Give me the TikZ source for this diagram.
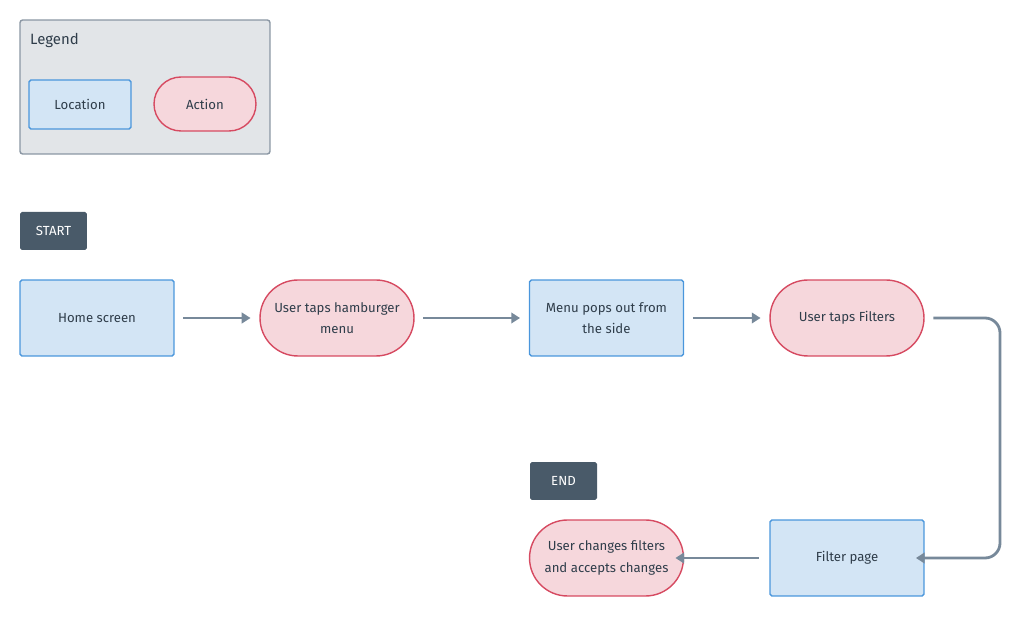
\documentclass[tikz,border=0pt]{standalone}
\usepackage{fontspec}
\setmainfont{Fira Sans}
\usetikzlibrary{positioning,arrows.meta}
\definecolor{locfill}{HTML}{D3E5F5}
\definecolor{locline}{HTML}{4A96DC}
\definecolor{actfill}{HTML}{F6D7DC}
\definecolor{actline}{HTML}{D64A61}
\definecolor{legfill}{HTML}{E2E5E8}
\definecolor{legline}{HTML}{8A96A3}
\definecolor{termfill}{HTML}{495A69}
\definecolor{flow}{HTML}{77899A}
\definecolor{txt}{HTML}{2F3D4A}
\tikzset{
    location/.style={draw=locline,fill=locfill,line width=0.8pt,rounded corners=1pt,minimum width=3.08cm,minimum height=1.52cm,align=center,text=txt,font=\fontsize{7.5}{12}\selectfont},
    action/.style={draw=actline,fill=actfill,line width=0.8pt,rounded corners=0.76cm,minimum width=3.08cm,minimum height=1.52cm,align=center,text=txt,font=\fontsize{7.5}{12}\selectfont},
    terminal/.style={fill=termfill,rounded corners=1pt,minimum width=1.34cm,minimum height=0.76cm,text=white,font=\fontsize{7.5}{9}\selectfont},
    flowarrow/.style={draw=flow,line width=1.6pt,-{Triangle[length=5pt,width=6pt]}}
}
\begin{document}
\begin{tikzpicture}[x=0.02cm,y=-0.02cm]
    \useasboundingbox (0,0) rectangle (1024,617);

    % Legend
    \node[draw=legline,fill=legfill,line width=0.8pt,rounded corners=1.5pt,minimum width=5cm,minimum height=2.68cm] (legend) at (145,87) {};
    \node[anchor=north west,text=txt,font=\fontsize{8.5}{10}\selectfont] (legendtitle) at (24,27) {Legend};
    \node[location,minimum width=2.04cm,minimum height=0.98cm] (keyloc) at (80,104.5) {Location};
    \node[action,minimum width=2.04cm,minimum height=1.08cm,rounded corners=0.54cm] (keyact) at (205,104) {Action};

    % Flow
    \node[terminal] (start) at (53.5,231) {START};
    \node[location] (home) at (97,318) {Home screen};
    \node[action] (hamburger) at (337,318) {User taps hamburger\\menu};
    \node[location] (menu) at (606.5,318) {Menu pops out from\\the side};
    \node[action] (taps) at (847,318) {User taps Filters};

    \node[terminal] (end) at (563.5,481) {END};
    \node[location] (filter) at (847,558) {Filter page};
    \node[action] (changes) at (606.5,558) {User changes filters\\and accepts changes};

    \draw[flowarrow] ([xshift=5pt]home.east) -- ([xshift=-5pt]hamburger.west);
    \draw[flowarrow] ([xshift=5pt]hamburger.east) -- ([xshift=-5pt]menu.west);
    \draw[flowarrow] ([xshift=5pt]menu.east) -- ([xshift=-5pt]taps.west);
    \draw[flowarrow,rounded corners=0.3cm] ([xshift=5pt]taps.east) -| (1000,438) |- ([xshift=-5pt]filter.east);
    \draw[flowarrow] ([xshift=-6pt]filter.west) -- ([xshift=-5pt]changes.east);
\end{tikzpicture}
\end{document}
